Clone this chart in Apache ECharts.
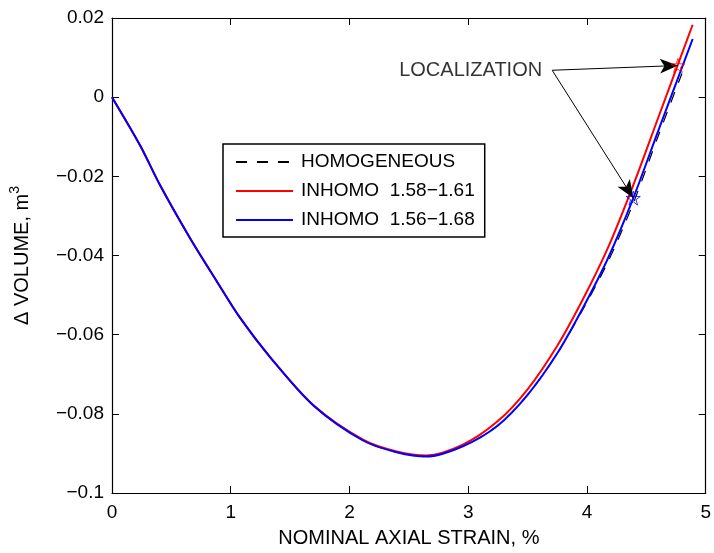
<!DOCTYPE html>
<html>
<head>
<meta charset="utf-8">
<script src="https://cdn.jsdelivr.net/npm/echarts@6/dist/echarts.min.js"></script>
<style>html,body{margin:0;padding:0;background:#fff;}#chart{width:714px;height:553px;}</style>
</head>
<body>
<div id="chart"></div>
<script>
// ---- data ----
const xHomo = [0, 0.237, 0.404, 0.655, 0.878, 1.073, 1.338, 1.70, 2.118, 2.397, 2.65, 2.954, 3.247, 3.5, 3.75, 3.97, 4.18, 4.39, 4.6, 4.8];
const yHomo = [0, -0.0122, -0.0222, -0.0355, -0.0463, -0.0555, -0.0659, -0.0780, -0.0868, -0.0897, -0.0908, -0.0882, -0.0830, -0.0752, -0.0647, -0.0534, -0.0414, -0.0268, -0.0098, 0.0060];

const xRed = [0, 0.237, 0.404, 0.655, 0.878, 1.073, 1.338, 1.70, 2.118, 2.397, 2.65, 2.954, 3.247, 3.5, 3.75, 3.97, 4.18, 4.39, 4.6, 4.89];
const yRed = [0, -0.0122, -0.0222, -0.0355, -0.0463, -0.0555, -0.0659, -0.0779, -0.0866, -0.0895, -0.0905, -0.0878, -0.0819, -0.0738, -0.0628, -0.0508, -0.0378, -0.0222, -0.0052, 0.0183];

const xBlue = [0, 0.237, 0.404, 0.655, 0.878, 1.073, 1.338, 1.70, 2.118, 2.397, 2.65, 2.954, 3.247, 3.5, 3.75, 3.97, 4.18, 4.39, 4.6, 4.89];
const yBlue = [0, -0.0122, -0.0222, -0.0355, -0.0463, -0.0555, -0.0659, -0.0780, -0.0868, -0.0897, -0.0908, -0.0882, -0.0830, -0.0752, -0.0647, -0.0530, -0.0405, -0.0255, -0.0085, 0.0147];

const seriesNames = ['HOMOGENEOUS', 'INHOMO  1.58\u22121.61', 'INHOMO  1.56\u22121.68'];
const localizationRed = [4.766, 0.0080];
const localizationBlue = [4.39, -0.0255];
const labelAnchor = [3.707, 0.0068];
const annotationText = 'LOCALIZATION';

const xTicks = [0, 1, 2, 3, 4, 5];
const yTicks = [-0.1, -0.08, -0.06, -0.04, -0.02, 0, 0.02];
const xTitle = 'NOMINAL AXIAL STRAIN, %';
const yTitleMain = '\u0394 VOLUME, m';
const yTitleSup = '3';

// ---- chart ----
const FONT = 'Liberation Sans';
const pair = (xs, ys) => xs.map((x, i) => [x, ys[i]]);
const starPath = 'path://M50,2 L61.2,36.3 L97.6,36.3 L68.2,57.6 L79.4,92 L50,70.8 L20.6,92 L31.8,57.6 L2.4,36.3 L38.8,36.3 Z';
const fmtY = v => {
  const r = Math.round(v * 1000) / 1000;
  if (r === 0) return '0';
  return (r < 0 ? '\u2212' : '') + String(Math.abs(r));
};

const axisLine = { show: true, onZero: false, lineStyle: { color: '#000', width: 1.2 } };
const axisTick = { show: true, inside: true, length: 7, lineStyle: { color: '#000', width: 1 } };

const chart = echarts.init(document.getElementById('chart'), null, { renderer: 'canvas' });
chart.setOption({
  animation: false,
  backgroundColor: '#fff',
  textStyle: { fontFamily: FONT },
  grid: { left: 110, top: 18, right: 6, bottom: 55, containLabel: false },
  xAxis: [{
    type: 'value', min: xTicks[0], max: xTicks[xTicks.length - 1], interval: 1,
    name: xTitle, nameLocation: 'middle', nameGap: 35,
    nameTextStyle: { fontFamily: FONT, fontSize: 20, color: '#000' },
    axisLine, axisTick, splitLine: { show: false },
    axisLabel: { fontFamily: FONT, fontSize: 19, color: '#000', margin: 10 }
  }, {
    type: 'value', position: 'top', min: xTicks[0], max: xTicks[xTicks.length - 1], interval: 1,
    axisLine, axisTick, splitLine: { show: false }, axisLabel: { show: false }
  }],
  yAxis: [{
    type: 'value', min: yTicks[0], max: yTicks[yTicks.length - 1], interval: 0.02,
    name: '{n|' + yTitleMain + '}{s|' + yTitleSup + '}', nameLocation: 'middle', nameGap: 80,
    nameTextStyle: {
      fontFamily: FONT, fontSize: 20, color: '#000',
      rich: {
        n: { fontFamily: FONT, fontSize: 20, color: '#000', lineHeight: 24, verticalAlign: 'bottom' },
        s: { fontFamily: FONT, fontSize: 14, color: '#000', lineHeight: 14, verticalAlign: 'top' }
      }
    },
    axisLine, axisTick, splitLine: { show: false },
    axisLabel: { fontFamily: FONT, fontSize: 19, color: '#000', margin: 8, formatter: fmtY }
  }, {
    type: 'value', position: 'right', min: yTicks[0], max: yTicks[yTicks.length - 1], interval: 0.02,
    axisLine, axisTick, splitLine: { show: false }, axisLabel: { show: false }
  }],
  legend: {
    orient: 'vertical', left: 223, top: 144,
    data: seriesNames,
    backgroundColor: '#fff', borderColor: '#000', borderWidth: 1.5, borderRadius: 0,
    padding: [8, 10, 7, 12],
    itemWidth: 57, itemHeight: 14, itemGap: 9,
    itemStyle: { opacity: 0 },
    textStyle: { fontFamily: FONT, fontSize: 19, color: '#000', lineHeight: 20, padding: [0, 0, 0, 3] },
    selectedMode: false
  },
  series: [
    { name: seriesNames[0], type: 'line', data: pair(xHomo, yHomo), showSymbol: false, symbol: 'none', smooth: 0.3,
      lineStyle: { color: '#000', width: 1.2, type: [11, 10] }, itemStyle: { color: '#000' }, z: 2 },
    { name: seriesNames[1], type: 'line', data: pair(xRed, yRed), showSymbol: false, symbol: 'none', smooth: 0.3,
      lineStyle: { color: '#ff0000', width: 2 }, itemStyle: { color: '#ff0000' }, z: 3 },
    { name: seriesNames[2], type: 'line', data: pair(xBlue, yBlue), showSymbol: false, symbol: 'none', smooth: 0.3,
      lineStyle: { color: '#0000ff', width: 2 }, itemStyle: { color: '#0000ff' }, z: 4 },
    { type: 'scatter', data: [localizationRed], symbol: starPath, symbolSize: 14,
      itemStyle: { color: 'rgba(0,0,0,0)', borderColor: '#ff0000', borderWidth: 1 }, z: 5, silent: true },
    { type: 'scatter', data: [localizationBlue], symbol: starPath, symbolSize: 14,
      itemStyle: { color: 'rgba(0,0,0,0)', borderColor: '#0000ff', borderWidth: 1 }, z: 5, silent: true },
    { type: 'scatter', data: [labelAnchor], symbolSize: 0, z: 6, silent: true,
      label: { show: true, position: 'left', distance: 10, formatter: annotationText,
               fontFamily: FONT, fontSize: 20, color: '#000' },
      markLine: {
        silent: true, animation: false,
        symbol: ['none', 'arrow'],
        label: { show: false },
        lineStyle: { color: '#000', width: 1, type: 'solid' },
        emphasis: { disabled: true },
        data: [
          [{ coord: labelAnchor, symbol: 'none' }, { coord: localizationRed, symbol: 'arrow', symbolSize: [11, 18] }],
          [{ coord: labelAnchor, symbol: 'none' }, { coord: localizationBlue, symbol: 'arrow', symbolSize: [11, 18] }]
        ]
      } }
  ]
});
</script>
</body>
</html>
